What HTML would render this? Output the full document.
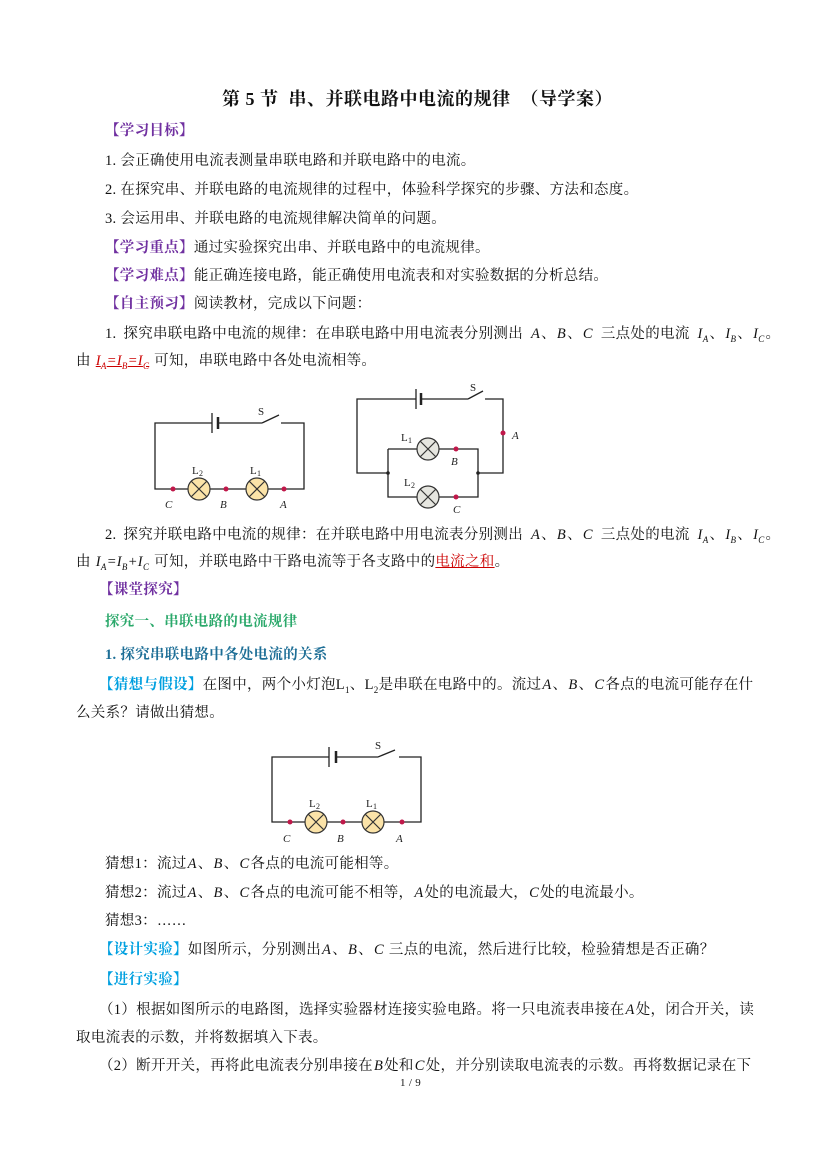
<!DOCTYPE html>
<html><head><meta charset="utf-8"><style>
body{margin:0;background:#fff;}
#p{position:relative;width:827px;height:1169px;overflow:hidden;font-family:"Liberation Serif","Noto Serif CJK SC","Noto Sans CJK SC",serif;font-size:14.5px;color:#111;letter-spacing:0.3px;}
.l{position:absolute;white-space:nowrap;line-height:18px;}
.pu{color:#7030a0;font-weight:bold;}
.cy{color:#00a0e0;font-weight:bold;}
i{font-style:italic;padding:0 1px;}
sub{font-size:9px;}
</style></head><body><div id="p">
<div class="l" style="left:222px;top:90px;font-size:18px;font-weight:bold;letter-spacing:0.5px;">第 5 节&nbsp; 串、并联电路中电流的规律 &nbsp;（导学案）</div>
<div class="l pu" style="left:105px;top:122px;">【学习目标】</div>
<div class="l" style="left:105px;top:152px;">1. 会正确使用电流表测量串联电路和并联电路中的电流。</div>
<div class="l" style="left:105px;top:181px;">2. 在探究串、并联电路的电流规律的过程中，体验科学探究的步骤、方法和态度。</div>
<div class="l" style="left:105px;top:210px;">3. 会运用串、并联电路的电流规律解决简单的问题。</div>
<div class="l" style="left:105px;top:239px;"><span class="pu">【学习重点】</span>通过实验探究出串、并联电路中的电流规律。</div>
<div class="l" style="left:105px;top:267px;"><span class="pu">【学习难点】</span>能正确连接电路，能正确使用电流表和对实验数据的分析总结。</div>
<div class="l" style="left:105px;top:295px;"><span class="pu">【自主预习】</span>阅读教材，完成以下问题：</div>
<div class="l" style="left:105px;top:325px;word-spacing:3px;">1. 探究串联电路中电流的规律：在串联电路中用电流表分别测出 <i>A</i>、<i>B</i>、<i>C</i> 三点处的电流 <i>I<sub>A</sub></i>、<i>I<sub>B</sub></i>、<i>I<sub>C</sub></i>。</div>
<div class="l" style="left:76px;top:352px;">由 <i style="color:#c00;text-decoration:underline">I<sub>A</sub>=I<sub>B</sub>=I<sub>C</sub></i> 可知，串联电路中各处电流相等。</div>

<svg style="position:absolute;left:0;top:0" width="827" height="1169" font-family="Liberation Serif,serif" font-size="11">
<g stroke="#222" stroke-width="1.3" fill="none">
<path d="M212,423H155V489H188M210,489H246M268,489H304V423H281M262,423L279,415M262,423H218"/>
<line x1="212" y1="413" x2="212" y2="433" /><line x1="218" y1="417" x2="218" y2="429" stroke-width="2.5"/>
<path d="M416,399H357V473H388M388,449V497H417M439,497H478V449H439M417,449H388M478,473H503V399H485M468,399L483,391M468,399H421"/>
<line x1="416" y1="389" x2="416" y2="409"/><line x1="421" y1="393" x2="421" y2="405" stroke-width="2.5"/>
<path d="M329,757H272V822H305M327,822H362M384,822H421V757H399M378,757L395,750M378,757H336"/>
<line x1="329" y1="747" x2="329" y2="767"/><line x1="336" y1="751" x2="336" y2="763" stroke-width="2.5"/>
</g>
<g stroke="#333" stroke-width="1.2" fill="#fbe3a8">
<circle cx="199" cy="489" r="11"/><circle cx="257" cy="489" r="11"/>
<circle cx="316" cy="822" r="11"/><circle cx="373" cy="822" r="11"/>
</g>
<g stroke="#333" stroke-width="1.2" fill="#e6e6e0">
<circle cx="428" cy="449" r="11"/><circle cx="428" cy="497" r="11"/>
</g>
<g stroke="#333" stroke-width="1.2">
<path d="M191,481l16,16M207,481l-16,16M249,481l16,16M265,481l-16,16M308,814l16,16M324,814l-16,16M365,814l16,16M381,814l-16,16M420,441l16,16M436,441l-16,16M420,489l16,16M436,489l-16,16"/>
</g>
<g fill="#c0184a">
<circle cx="173" cy="489" r="2.5"/><circle cx="226" cy="489" r="2.5"/><circle cx="284" cy="489" r="2.5"/>
<circle cx="503" cy="433" r="2.5"/><circle cx="456" cy="449" r="2.5"/><circle cx="456" cy="497" r="2.5"/>
<circle cx="290" cy="822" r="2.5"/><circle cx="343" cy="822" r="2.5"/><circle cx="402" cy="822" r="2.5"/>
</g>
<g fill="#222"><circle cx="388" cy="473" r="1.8"/><circle cx="478" cy="473" r="1.8"/></g>
<g fill="#222">
<text x="258" y="415">S</text><text x="192" y="474">L<tspan font-size="8" dy="2">2</tspan></text><text x="250" y="474">L<tspan font-size="8" dy="2">1</tspan></text>
<text x="165" y="508" font-style="italic">C</text><text x="220" y="508" font-style="italic">B</text><text x="280" y="508" font-style="italic">A</text>
<text x="470" y="391">S</text><text x="401" y="441">L<tspan font-size="8" dy="2">1</tspan></text><text x="404" y="486">L<tspan font-size="8" dy="2">2</tspan></text>
<text x="512" y="439" font-style="italic">A</text><text x="451" y="465" font-style="italic">B</text><text x="453" y="513" font-style="italic">C</text>
<text x="375" y="749">S</text><text x="309" y="807">L<tspan font-size="8" dy="2">2</tspan></text><text x="366" y="807">L<tspan font-size="8" dy="2">1</tspan></text>
<text x="283" y="842" font-style="italic">C</text><text x="337" y="842" font-style="italic">B</text><text x="396" y="842" font-style="italic">A</text>
</g>
</svg>

<div class="l" style="left:105px;top:526px;word-spacing:3px;">2. 探究并联电路中电流的规律：在并联电路中用电流表分别测出 <i>A</i>、<i>B</i>、<i>C</i> 三点处的电流 <i>I<sub>A</sub></i>、<i>I<sub>B</sub></i>、<i>I<sub>C</sub></i>。</div>
<div class="l" style="left:76px;top:553px;">由 <i>I<sub>A</sub>=I<sub>B</sub>+I<sub>C</sub></i> 可知，并联电路中干路电流等于各支路中的<span style="color:#c00;text-decoration:underline">电流之和</span>。</div>
<div class="l pu" style="left:99px;top:581px;">【课堂探究】</div>
<div class="l" style="left:105px;top:613px;color:#2aa86a;font-weight:bold;">探究一、串联电路的电流规律</div>
<div class="l" style="left:105px;top:646px;color:#1d6e96;font-weight:bold;">1. 探究串联电路中各处电流的关系</div>
<div class="l" style="left:99px;top:676px;"><span class="cy">【猜想与假设】</span>在图中，两个小灯泡L<sub>1</sub>、L<sub>2</sub>是串联在电路中的。流过<i>A</i>、<i>B</i>、<i>C</i>各点的电流可能存在什</div>
<div class="l" style="left:76px;top:704px;">么关系？请做出猜想。</div>
<div class="l" style="left:105px;top:855px;">猜想1：流过<i>A</i>、<i>B</i>、<i>C</i>各点的电流可能相等。</div>
<div class="l" style="left:105px;top:884px;">猜想2：流过<i>A</i>、<i>B</i>、<i>C</i>各点的电流可能不相等，<i>A</i>处的电流最大，<i>C</i>处的电流最小。</div>
<div class="l" style="left:105px;top:912px;">猜想3：……</div>
<div class="l" style="left:99px;top:941px;"><span class="cy">【设计实验】</span>如图所示，分别测出<i>A</i>、<i>B</i>、<i>C</i> 三点的电流，然后进行比较，检验猜想是否正确？</div>
<div class="l cy" style="left:99px;top:971px;">【进行实验】</div>
<div class="l" style="left:99px;top:1001px;">（1）根据如图所示的电路图，选择实验器材连接实验电路。将一只电流表串接在<i>A</i>处，闭合开关，读</div>
<div class="l" style="left:76px;top:1029px;">取电流表的示数，并将数据填入下表。</div>
<div class="l" style="left:99px;top:1057px;">（2）断开开关，再将此电流表分别串接在<i>B</i>处和<i>C</i>处，并分别读取电流表的示数。再将数据记录在下</div>
<div class="l" style="left:400px;top:1074px;font-size:11px;">1 / 9</div>
</div></body></html>
